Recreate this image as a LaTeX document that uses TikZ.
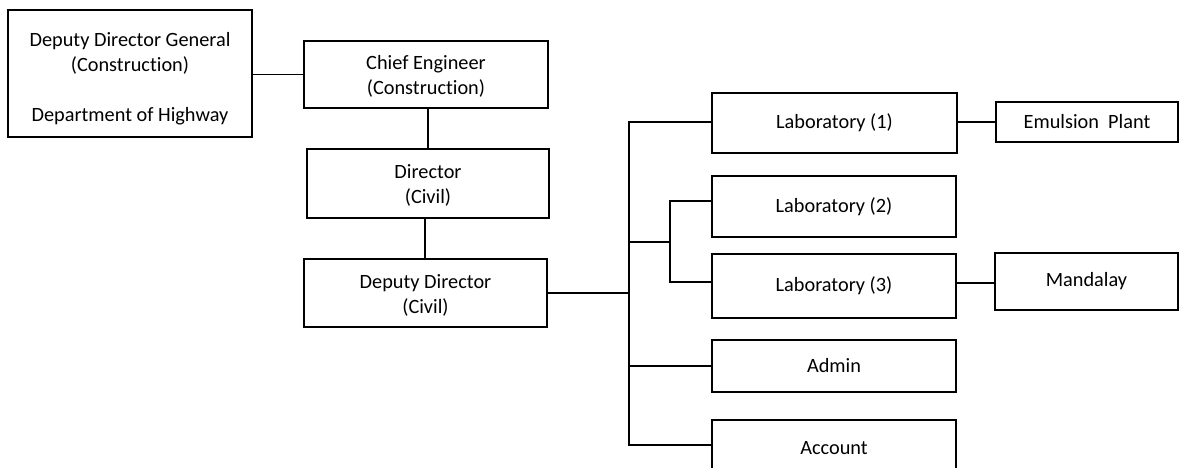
\documentclass[tikz,border=0pt]{standalone}
\usepackage{fontspec}
\setmainfont{Carlito}[Ligatures={NoCommon}]
\newcommand{\toppad}[1]{\rule{0pt}{#1}}
\begin{document}
\begin{tikzpicture}[x=1pt,y=-1pt,
  box/.style={draw=black, line width=1.3pt, rectangle, inner sep=0pt,
    font=\fontsize{20.3}{25}\selectfont, align=center},
  link/.style={draw=black, line width=1.3pt}]
\useasboundingbox (0,0) rectangle (1184,468);
\clip (0,0) rectangle (1184,468);

% management chain
\node[box, minimum width=244pt, minimum height=127pt] (ddg) at (130,73.5)
  {\toppad{24.5pt}Deputy Director General\\(Construction)\\[25pt]Department of Highway};
\node[box, minimum width=244pt, minimum height=67pt] (ce) at (426,74.5)
  {\toppad{18.5pt}Chief Engineer\\(Construction)};
\node[box, minimum width=242pt, minimum height=69pt] (dir) at (428,183.5)
  {\toppad{17.5pt}Director\\(Civil)};
\node[box, minimum width=243pt, minimum height=68pt] (dd) at (425.5,293)
  {\toppad{18.5pt}Deputy Director\\(Civil)};

% sections
\node[box, minimum width=245pt, minimum height=60pt] (lab1) at (834.5,123) {Laboratory (1)};
\node[box, minimum width=244pt, minimum height=61pt] (lab2) at (834,206.5) {Laboratory (2)};
\node[box, minimum width=244pt, minimum height=64pt] (lab3) at (834,286) {Laboratory (3)};
\node[box, minimum width=244pt, minimum height=52pt] (admin) at (834,366) {Admin};
\node[box, minimum width=244pt, minimum height=56pt] (account) at (834,448) {Account};
\node[box, minimum width=182pt, minimum height=40pt] (emul) at (1087,122) {Emulsion\ \ Plant};
\node[box, minimum width=183pt, minimum height=57pt] (mand) at (1086.5,281.5) {Mandalay};

% bus lines and link positions
\coordinate (busTop) at (629,122);
\coordinate (busBot) at (629,445);
\coordinate (busMid) at (629,242);
\coordinate (subTop) at (670,201);
\coordinate (subBot) at (670,282);
\coordinate (mandLink) at (975,283);
\coordinate (ddLink) at (425,0);

% connectors
\draw[link] (ce.west) -- (ce.west -| ddg.east);
\draw[link] (dir.north) -- (dir.north |- ce.south);
\draw[link] (ddLink |- dd.north) -- (ddLink |- dir.south);
\draw[link] (dd.east) -- (dd.east -| busTop);
\draw[link] (busTop -| lab1.west) -- (busTop) -- (busBot) -- (busBot -| account.west);
\draw[link] (busMid) -- (busMid -| subTop);
\draw[link] (subTop -| lab2.west) -- (subTop) -- (subBot) -- (subBot -| lab3.west);
\draw[link] (admin.west) -- (admin.west -| busTop);
\draw[link] (emul.west) -- (emul.west -| lab1.east);
\draw[link] (mandLink -| lab3.east) -- (mandLink -| mand.west);
\end{tikzpicture}
\end{document}
